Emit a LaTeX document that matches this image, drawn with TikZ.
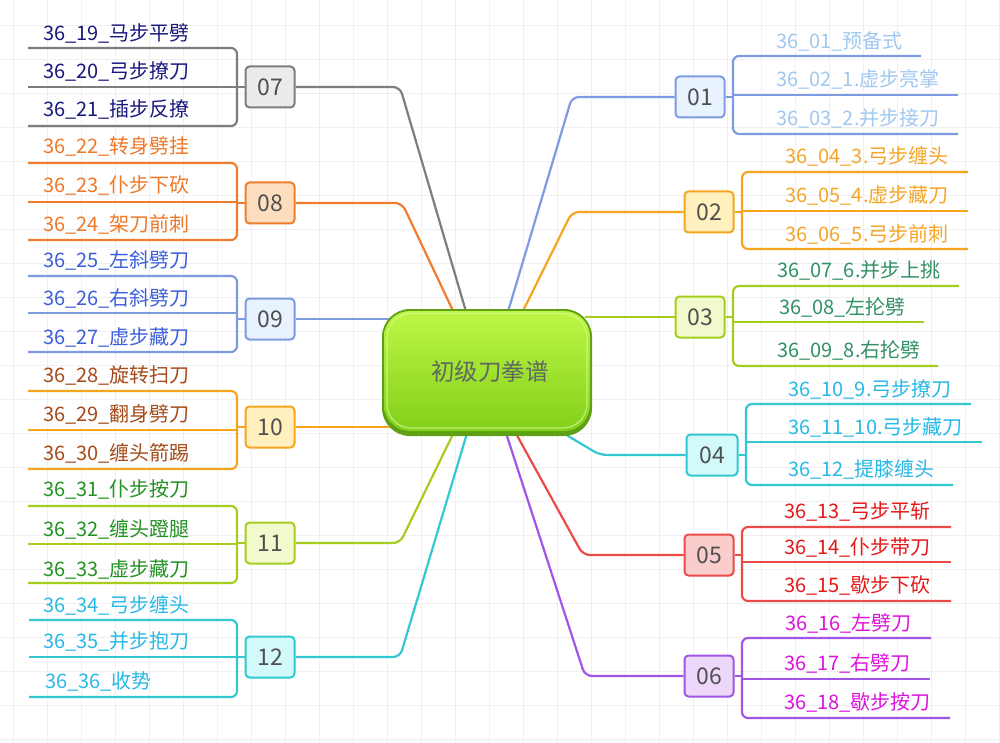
\documentclass[tikz,border=0pt]{standalone}
\usepackage{fontspec}
\setmainfont{Noto Sans CJK SC}
\usetikzlibrary{calc}
\definecolor{gridc}{RGB}{240,240,243}
\definecolor{numtext}{RGB}{80,80,80}
\definecolor{c01}{RGB}{125,155,225}\definecolor{f01}{RGB}{232,243,255}\definecolor{t01}{RGB}{160,200,240}
\definecolor{c02}{RGB}{245,165,30}\definecolor{f02}{RGB}{255,240,190}\definecolor{t02}{RGB}{245,165,40}
\definecolor{c03}{RGB}{165,205,30}\definecolor{f03}{RGB}{242,250,205}\definecolor{t03}{RGB}{50,145,100}
\definecolor{c04}{RGB}{50,200,210}\definecolor{f04}{RGB}{210,250,250}\definecolor{t04}{RGB}{40,185,230}
\definecolor{c05}{RGB}{235,75,70}\definecolor{f05}{RGB}{250,205,205}\definecolor{t05}{RGB}{230,25,25}
\definecolor{c06}{RGB}{160,85,230}\definecolor{f06}{RGB}{237,215,250}\definecolor{t06}{RGB}{220,20,220}
\definecolor{c07}{RGB}{125,125,125}\definecolor{f07}{RGB}{235,235,235}\definecolor{t07}{RGB}{25,25,125}
\definecolor{c08}{RGB}{240,125,45}\definecolor{f08}{RGB}{252,222,190}\definecolor{t08}{RGB}{240,120,40}
\definecolor{t09}{RGB}{60,95,220}
\definecolor{t10}{RGB}{165,75,25}
\definecolor{t11}{RGB}{35,145,35}
\definecolor{cdark}{RGB}{95,160,20}
\definecolor{ctop}{RGB}{190,246,70}
\definecolor{cbot}{RGB}{130,208,25}
\definecolor{ctext}{RGB}{95,105,95}
\tikzset{
  lbl/.style={anchor=base west, inner sep=0pt, font=\fontsize{20}{20}\selectfont},
  numbox/.style={draw, line width=2pt, rounded corners=4pt, minimum width=49pt, minimum height=41pt, inner sep=0pt, text=numtext, font=\fontsize{23}{23}\selectfont},
  br/.style={line width=2.2pt, rounded corners=6pt},
  conn/.style={line width=2.2pt, rounded corners=7pt},
}
\begin{document}
\begin{tikzpicture}[x=1pt,y=-1pt]
\useasboundingbox (0,0) rectangle (1000,743);
\fill[white] (0,0) rectangle (1000,743);
% grid
\foreach \i in {0,...,29} {\draw[gridc, line width=0.8pt] (13+34*\i,0) -- (13+34*\i,743);}
\foreach \j in {0,...,21} {\draw[gridc, line width=0.8pt] (0,25+34*\j) -- (1000,25+34*\j);}

% attach points on central node
\coordinate (a01) at (507,315);
\coordinate (a02) at (521,315);
\coordinate (a03) at (585,317);
\coordinate (a04) at (558,430);
\coordinate (a05) at (514,430);
\coordinate (a06) at (505,430);
\coordinate (a07) at (467,315);
\coordinate (a08) at (455,315);
\coordinate (a09) at (390,319);
\coordinate (a10) at (392,427);
\coordinate (a11) at (455,430);
\coordinate (a12) at (468,430);
% bends
\coordinate (k01) at (572,97);
\coordinate (k02) at (572,212);
\coordinate (k04) at (600,455);
\coordinate (k05) at (583,555);
\coordinate (k06) at (585,676);
\coordinate (k07) at (400,87);
\coordinate (k08) at (402,203);
\coordinate (k11) at (400,543);
\coordinate (k12) at (400,657);

% ---------- right groups ----------
% 01
\node[numbox, draw=c01, fill=f01] (b01) at (700,97) {01};
\draw[br, c01] (b01.east) -- (733,97);
\draw[br, c01] (921,56) -- (733,56) -- (733,134) -- (958,134);
\draw[br, c01] (733,95) -- (958,95);
\node[lbl, text=t01] (l01) at (776,48.5) {36\_01\_预备式};
\node[lbl, text=t01] (l02) at (776,87) {36\_02\_1.虚步亮掌};
\node[lbl, text=t01] (l03) at (776,126) {36\_03\_2.并步接刀};
% 02
\node[numbox, draw=c02, fill=f02] (b02) at (709,212) {02};
\draw[br, c02] (b02.east) -- (742,212);
\draw[br, c02] (968,172) -- (742,172) -- (742,249) -- (968,249);
\draw[br, c02] (742,211) -- (968,211);
\node[lbl, text=t02] (l04) at (785,164) {36\_04\_3.弓步缠头};
\node[lbl, text=t02] (l05) at (785,203) {36\_05\_4.虚步藏刀};
\node[lbl, text=t02] (l06) at (785,241.5) {36\_06\_5.弓步前刺};
% 03
\node[numbox, draw=c03, fill=f03] (b03) at (700,317) {03};
\draw[br, c03] (b03.east) -- (733,317);
\draw[br, c03] (959,286) -- (733,286) -- (733,366) -- (938,366);
\draw[br, c03] (733,322) -- (924,322);
\node[lbl, text=t03] (l07) at (777,277.5) {36\_07\_6.并步上挑};
\node[lbl, text=t03] (l08) at (779,314.5) {36\_08\_左抡劈};
\node[lbl, text=t03] (l09) at (777,357) {36\_09\_8.右抡劈};
% 04
\node[numbox, draw=c04, fill=f04, minimum width=51pt] (b04) at (712,455) {04};
\draw[br, c04] (b04.east) -- (746,455);
\draw[br, c04] (971,404) -- (746,404) -- (746,485) -- (953,485);
\draw[br, c04] (746,442) -- (982,442);
\node[lbl, text=t04] (l10) at (788,396) {36\_10\_9.弓步撩刀};
\node[lbl, text=t04] (l11) at (788,434) {36\_11\_10.弓步藏刀};
\node[lbl, text=t04] (l12) at (788,476) {36\_12\_提膝缠头};
% 05
\node[numbox, draw=c05, fill=f05] (b05) at (709,555) {05};
\draw[br, c05] (b05.east) -- (742,555);
\draw[br, c05] (951,527) -- (742,527) -- (742,601) -- (951,601);
\draw[br, c05] (742,562) -- (951,562);
\node[lbl, text=t05] (l13) at (784,518) {36\_13\_弓步平斩};
\node[lbl, text=t05] (l14) at (784,554.5) {36\_14\_仆步带刀};
\node[lbl, text=t05] (l15) at (784,592.5) {36\_15\_歇步下砍};
% 06
\node[numbox, draw=c06, fill=f06] (b06) at (709,676) {06};
\draw[br, c06] (b06.east) -- (742,676);
\draw[br, c06] (931,638) -- (742,638) -- (742,718) -- (950,718);
\draw[br, c06] (742,679) -- (930,679);
\node[lbl, text=t06] (l16) at (785,630) {36\_16\_左劈刀};
\node[lbl, text=t06] (l17) at (784,670) {36\_17\_右劈刀};
\node[lbl, text=t06] (l18) at (784,709) {36\_18\_歇步按刀};

% ---------- left groups ----------
% 07
\node[numbox, draw=c07, fill=f07] (b07) at (270,87) {07};
\draw[br, c07] (b07.west) -- (237,87);
\draw[br, c07] (28,48) -- (237,48) -- (237,126) -- (28,126);
\draw[br, c07] (237,87) -- (28,87);
\node[lbl, text=t07] (l19) at (43,41) {36\_19\_马步平劈};
\node[lbl, text=t07] (l20) at (43,78.5) {36\_20\_弓步撩刀};
\node[lbl, text=t07] (l21) at (43,117) {36\_21\_插步反撩};
% 08
\node[numbox, draw=c08, fill=f08] (b08) at (270,203) {08};
\draw[br, c08] (b08.west) -- (237,203);
\draw[br, c08] (28,163) -- (237,163) -- (237,240) -- (28,240);
\draw[br, c08] (237,202) -- (28,202);
\node[lbl, text=t08] (l22) at (43,154) {36\_22\_转身劈挂};
\node[lbl, text=t08] (l23) at (43,193) {36\_23\_仆步下砍};
\node[lbl, text=t08] (l24) at (43,232) {36\_24\_架刀前刺};
% 09
\node[numbox, draw=c01, fill=f01] (b09) at (270,319) {09};
\draw[br, c01] (b09.west) -- (237,319);
\draw[br, c01] (28,276) -- (237,276) -- (237,352) -- (28,352);
\draw[br, c01] (237,313) -- (28,313);
\node[lbl, text=t09] (l25) at (43,267.5) {36\_25\_左斜劈刀};
\node[lbl, text=t09] (l26) at (43,305) {36\_26\_右斜劈刀};
\node[lbl, text=t09] (l27) at (43,344) {36\_27\_虚步藏刀};
% 10
\node[numbox, draw=c02, fill=f02] (b10) at (270,427) {10};
\draw[br, c02] (b10.west) -- (237,427);
\draw[br, c02] (28,391) -- (237,391) -- (237,469) -- (28,469);
\draw[br, c02] (237,430) -- (28,430);
\node[lbl, text=t10] (l28) at (43,382.5) {36\_28\_旋转扫刀};
\node[lbl, text=t10] (l29) at (43,421.5) {36\_29\_翻身劈刀};
\node[lbl, text=t10] (l30) at (43,460.5) {36\_30\_缠头箭踢};
% 11
\node[numbox, draw=c03, fill=f03] (b11) at (270,543) {11};
\draw[br, c03] (b11.west) -- (237,543);
\draw[br, c03] (28,506) -- (237,506) -- (237,583) -- (28,583);
\draw[br, c03] (237,544) -- (28,544);
\node[lbl, text=t11] (l31) at (43,496.5) {36\_31\_仆步按刀};
\node[lbl, text=t11] (l32) at (43,536.5) {36\_32\_缠头蹬腿};
\node[lbl, text=t11] (l33) at (43,576) {36\_33\_虚步藏刀};
% 12
\node[numbox, draw=c04, fill=f04] (b12) at (270,657) {12};
\draw[br, c04] (b12.west) -- (237,657);
\draw[br, c04] (29,620) -- (237,620) -- (237,697) -- (29,697);
\draw[br, c04] (237,657) -- (29,657);
\node[lbl, text=t04] (l34) at (43,612) {36\_34\_弓步缠头};
\node[lbl, text=t04] (l35) at (43,648) {36\_35\_并步抱刀};
\node[lbl, text=t04] (l36) at (45,688) {36\_36\_收势};

% ---------- main connectors ----------
\draw[conn, c01] (b01.west) -- (k01) -- (a01);
\draw[conn, c02] (b02.west) -- (k02) -- (a02);
\draw[conn, c03] (b03.west) -- (a03);
\draw[conn, c04] (b04.west) -- (k04) -- (a04);
\draw[conn, c05] (b05.west) -- (k05) -- (a05);
\draw[conn, c06] (b06.west) -- (k06) -- (a06);
\draw[conn, c07] (b07.east) -- (k07) -- (a07);
\draw[conn, c08] (b08.east) -- (k08) -- (a08);
\draw[conn, c01] (b09.east) -- (a09);
\draw[conn, c02] (b10.east) -- (a10);
\draw[conn, c03] (b11.east) -- (k11) -- (a11);
\draw[conn, c04] (b12.east) -- (k12) -- (a12);

% ---------- central node ----------
\fill[cdark, rounded corners=28pt] (382,309) rectangle (592,436);
\shade[rounded corners=26pt, top color=ctop, bottom color=cbot] (384,311) rectangle (590,431);
\draw[ctop!55!white, line width=1.2pt, rounded corners=24pt, opacity=0.7] (387,313.5) rectangle (587,428);
\node[inner sep=0pt, text=ctext, font=\fontsize{23.5}{23.5}\selectfont] (c) at (490,372) {初级刀拳谱};
\end{tikzpicture}
\end{document}
